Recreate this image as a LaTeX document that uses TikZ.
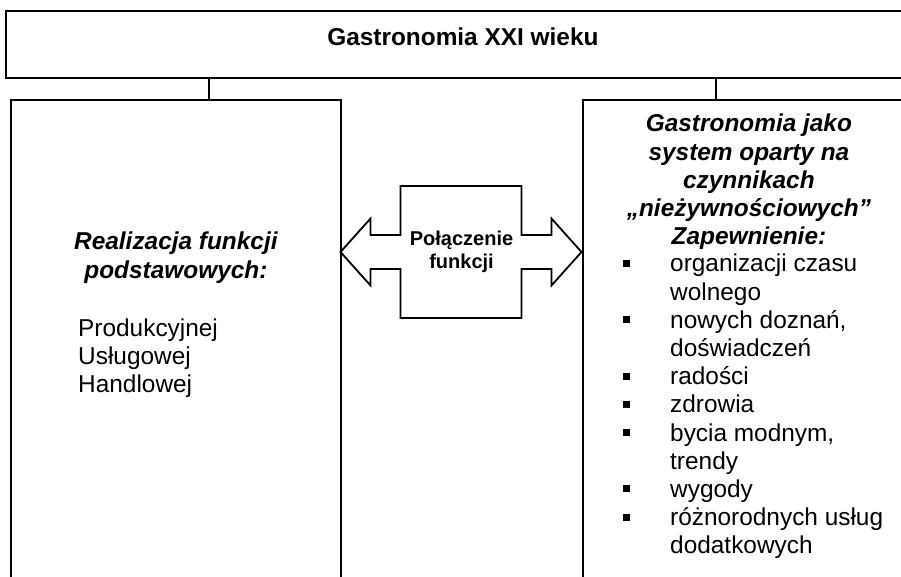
\documentclass[tikz,border=0pt]{standalone}
\usepackage{fontspec}
\setmainfont{Liberation Sans}
\usepackage{tikz}
\usetikzlibrary{positioning}

\newcommand{\kwadrat}{\rule[5pt]{7pt}{7pt}}

\begin{document}
\begin{tikzpicture}[x=1pt, y=-1pt,
    ramka/.style={draw, line width=1.8pt, inner sep=0pt},
    tekst/.style={inner sep=0pt, font=\fontsize{24.4}{28.2}\selectfont},
    naglowek/.style={inner sep=0pt, align=center, font=\fontsize{24.4}{28.2}\selectfont\bfseries\itshape},
    laczenie/.style={draw, line width=1.8pt, line join=miter}]

\useasboundingbox (0,0) rectangle (901,577);

% ramki
\node[ramka, anchor=north west, minimum width=914pt, minimum height=67pt,
  text height=14pt, text depth=11pt,
  font=\fontsize{24.4}{28.2}\selectfont\bfseries] (top) at (5,10) {Gastronomia XXI wieku};
\node[ramka, anchor=north west, minimum width=330pt, minimum height=520pt] (lewa) at (10,99) {};
\node[ramka, anchor=north west, minimum width=332pt, minimum height=520pt] (prawa) at (582,99) {};

% linie do gornej ramki
\coordinate (lpol) at ([xshift=33pt]lewa.north);
\coordinate (ppol) at ([xshift=-33pt]prawa.north);
\draw[laczenie] (lpol) -- (lpol |- top.south);
\draw[laczenie] (ppol) -- (ppol |- top.south);

% lewa strona
\node[naglowek, below=133pt of lewa.north] (lnagl) {Realizacja funkcji\\podstawowych:};
\node[tekst, align=left, anchor=north west, xshift=68pt, yshift=-35pt] (llista)
  at (lnagl.south -| lewa.west) {Produkcyjnej\\Usługowej\\Handlowej};

% prawa strona
\node[naglowek, below=15pt of prawa.north] (pnagl)
  {Gastronomia jako\\system oparty na\\czynnikach\\„nieżywnościowych”\\Zapewnienie:};
\node[tekst, anchor=north west, xshift=41pt, yshift=-2pt] (plista) at (pnagl.south -| prawa.west)
  {\begin{tabular}{@{}l@{\hspace{40pt}}l@{}}
    \kwadrat & organizacji czasu\\
             & wolnego\\
    \kwadrat & nowych doznań,\\
             & doświadczeń\\
    \kwadrat & radości\\
    \kwadrat & zdrowia\\
    \kwadrat & bycia modnym,\\
             & trendy\\
    \kwadrat & wygody\\
    \kwadrat & różnorodnych usług\\
             & dodatkowych
  \end{tabular}};

% strzalka w obie strony
\node[inner sep=0pt, align=center, font=\fontsize{20}{23}\selectfont\bfseries] (pol)
  at (461.5,252) {Połączenie\\funkcji};
\draw[laczenie] (pol.center) ++(-121,0) -- ++(30,-33.5) -- ++(0,16.5) -- ++(30,0)
  -- ++(0,-49) -- ++(121,0) -- ++(0,49) -- ++(30,0) -- ++(0,-16.5) -- ++(30,33.5)
  -- ++(-30,33.5) -- ++(0,-16.5) -- ++(-30,0) -- ++(0,49) -- ++(-121,0)
  -- ++(0,-49) -- ++(-30,0) -- ++(0,16.5) -- cycle;

\end{tikzpicture}
\end{document}
